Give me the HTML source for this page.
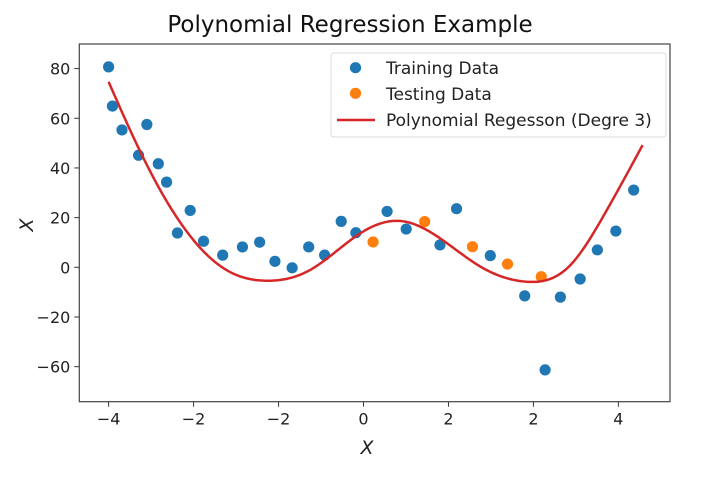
<!DOCTYPE html>
<html><head><meta charset="utf-8"><style>
body{margin:0;background:#fff;}
svg{display:block;font-family:"DejaVu Sans","Liberation Sans",sans-serif;}
</style></head><body>
<svg id="chart" width="720" height="480" viewBox="0 0 720 480">
<rect width="720" height="480" fill="#fff"/>
<text x="350" y="32" font-size="23" text-anchor="middle" fill="#111">Polynomial Regression Example</text>
<g id="plot"></g>
</svg>
<script>
const trainX=[-4.0,-3.94,-3.79,-3.53,-3.40,-3.22,-3.09,-2.72,-2.92,-2.51,-2.21,-1.90,-1.63,-1.39,-1.12,-0.86,-0.61,-0.35,-0.12,0.37,0.67,1.20,1.46,1.99,2.53,2.85,3.09,3.40,3.67,3.96,4.24];
const trainY=[80.7,64.9,55.3,45.1,57.5,41.7,34.3,22.9,13.8,10.5,4.9,8.2,10.1,2.4,-0.2,8.2,4.9,18.5,13.9,22.5,15.4,9.0,23.6,4.7,-11.5,-41.3,-12.0,-4.7,7.0,14.6,31.1];
const testX=[0.15,0.96,1.71,2.26,2.79];
const testY=[10.2,18.4,8.3,1.3,-3.8];
const curveX=[-4.0,-3.71,-3.19,-2.67,-2.15,-1.52,-0.84,-0.05,0.6,1.24,1.84,2.56,3.22,3.76,4.38];
const curveY=[74.7,57.9,31.1,11.0,-1.1,-5.4,-1.1,13.7,18.6,11.0,0.2,-5.8,0.2,20.4,49.2];
const xTickVals=[-4,-8/3,-4/3,0,4/3,8/3,4];
const xTickLabels=["\u22124","\u22122","\u22122","0","2","2","4"];
const yTickVals=[80,60,40,20,0,-20,-40];
const yTickLabels=["80","60","40","20","0","\u221220","\u221260"];

const L=79.3,R=670,T=44,B=401.7;
const xMin=-4.46,xMax=4.81,yMin=-54.1,yMax=89.9;
const sx=v=>L+(v-xMin)/(xMax-xMin)*(R-L);
const sy=v=>B-(v-yMin)/(yMax-yMin)*(B-T);
const NS="http://www.w3.org/2000/svg";
const g=document.getElementById('plot');
function mk(tag,attrs){const e=document.createElementNS(NS,tag);for(const k in attrs)e.setAttribute(k,attrs[k]);g.appendChild(e);return e;}

xTickVals.forEach((v,i)=>{
  const t=mk('line',{x1:sx(v),x2:sx(v),y1:B,y2:B+5,stroke:'#333','stroke-width':1});
  
  
  const l=mk('text',{x:sx(v),y:B+23,'font-size':16,'text-anchor':'middle',fill:'#222'});
  l.textContent=xTickLabels[i];
  
  
});
yTickVals.forEach((v,i)=>{
  const t=mk('line',{x1:L-5,x2:L,y1:sy(v),y2:sy(v),stroke:'#333','stroke-width':1});
  
  
  const l=mk('text',{x:L-9,y:sy(v)+6,'font-size':16,'text-anchor':'end',fill:'#222'});
  l.textContent=yTickLabels[i];
  
  
});

trainX.forEach((x,i)=>{
  const c=mk('circle',{cx:sx(x),cy:sy(trainY[i]),r:5.6,fill:'#1f77b4'});
  
  
});
testX.forEach((x,i)=>{
  const c=mk('circle',{cx:sx(x),cy:sy(testY[i]),r:5.6,fill:'#ff7f0e'});
  
  
});

// natural cubic spline through curve samples
function spline(xs,ys){
  const n=xs.length,h=[],al=[],l=[1],mu=[0],z=[0],c=new Array(n).fill(0),b=[],d=[];
  for(let i=0;i<n-1;i++)h.push(xs[i+1]-xs[i]);
  for(let i=1;i<n-1;i++)al[i]=3/h[i]*(ys[i+1]-ys[i])-3/h[i-1]*(ys[i]-ys[i-1]);
  for(let i=1;i<n-1;i++){l[i]=2*(xs[i+1]-xs[i-1])-h[i-1]*mu[i-1];mu[i]=h[i]/l[i];z[i]=(al[i]-h[i-1]*z[i-1])/l[i];}
  z[n-1]=0;
  for(let j=n-2;j>=0;j--){c[j]=z[j]-mu[j]*c[j+1];b[j]=(ys[j+1]-ys[j])/h[j]-h[j]*(c[j+1]+2*c[j])/3;d[j]=(c[j+1]-c[j])/(3*h[j]);}
  return x=>{let j=0;while(j<n-2&&x>xs[j+1])j++;const t=x-xs[j];return ys[j]+b[j]*t+c[j]*t*t+d[j]*t*t*t;};
}
const f=spline(curveX,curveY);
const x0=curveX[0],x1=curveX[curveX.length-1];
let d='';
for(let k=0;k<=300;k++){const x=x0+(x1-x0)*k/300;d+=(k?'L':'M')+sx(x).toFixed(2)+','+sy(f(x)).toFixed(2);}
const path=mk('path',{d:d,fill:'none',stroke:'#d62728','stroke-width':2.5});



const fr=mk('rect',{x:L,y:T,width:R-L,height:B-T,fill:'none',stroke:'#444','stroke-width':1.2});



const xl=mk('text',{x:367,y:454,'font-size':19,'font-style':'italic','text-anchor':'middle',fill:'#222'});
xl.textContent='X';


const yl=mk('text',{x:0,y:0,'font-size':19,'font-style':'italic','text-anchor':'middle',fill:'#222',transform:'translate(33,225) rotate(-90)'});
yl.textContent='X';



// legend
const lb=mk('rect',{x:331,y:53,width:335,height:84,rx:3,fill:'#fff','fill-opacity':0.85,stroke:'#ddd'});


const le1=mk('circle',{cx:355.5,cy:67.7,r:5.6,fill:'#1f77b4'});


const le2=mk('circle',{cx:355.5,cy:93.3,r:5.6,fill:'#ff7f0e'});


const le3=mk('line',{x1:337,x2:375,y1:120,y2:120,stroke:'#d62728','stroke-width':2.5});


[['Training Data',74],['Testing Data',100],['Polynomial Regesson (Degre 3)',126]].forEach(([t,y])=>{
  const e=mk('text',{x:386,y:y,'font-size':17,fill:'#222'});
  e.textContent=t;
  
  
});
</script>
</body></html>
